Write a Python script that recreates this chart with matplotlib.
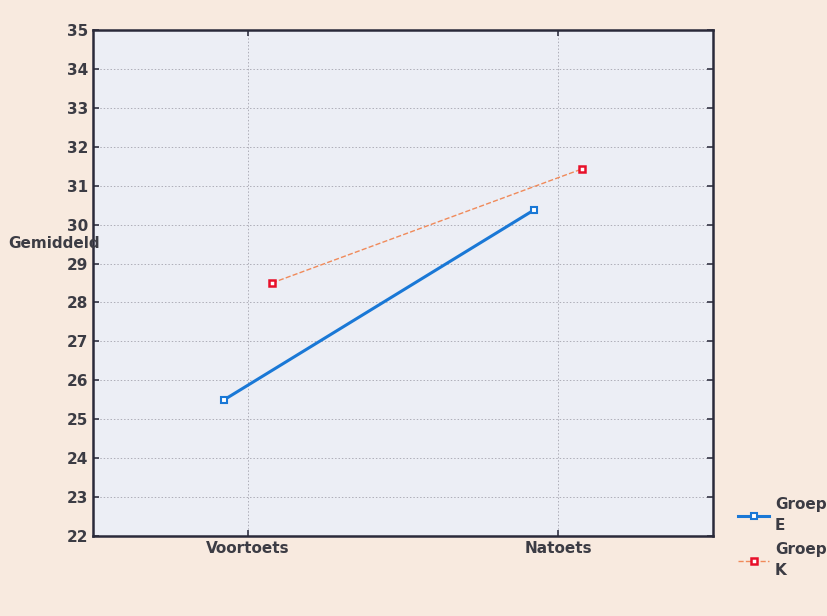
import matplotlib.pyplot as plt
import numpy as np

categories = ["Voortoets", "Natoets"]
groep_e = [25.5, 30.38]
groep_k = [28.5, 31.43]

fig = plt.figure(figsize=(8.28, 6.16), dpi=100)
fig.patch.set_facecolor("#f8eadf")
ax = fig.add_axes([0.1123, 0.1299, 0.749, 0.8214])
ax.set_facecolor("#eceef5")

x = np.arange(len(categories))
off = 0.077
ax.plot(x - off, groep_e, color="#1a78d6", lw=2.2, marker="s", ms=5,
        mfc="white", mec="#1a78d6", mew=1.5, label="Groep\nE")
ax.plot(x + off, groep_k, color="#f08a5a", lw=1, ls="--", marker="s", ms=5,
        mfc="white", mec="#e8102a", mew=1.8, label="Groep\nK")

ax.set_xlim(-0.5, 1.5)
ax.set_ylim(22, 35)
ax.set_xticks(x)
ax.set_xticklabels(categories)
ax.set_yticks(range(22, 36))
ax.grid(True, color="#aeaeb8", ls=(0, (1.5, 2)), lw=0.7)
ax.tick_params(direction="in", length=4, width=1.2, top=True, right=True,
               labelsize=11, labelcolor="#3c3c44", color="#333344")
for lab in ax.get_xticklabels() + ax.get_yticklabels():
    lab.set_fontweight("bold")
for s in ax.spines.values():
    s.set_linewidth(1.8)
    s.set_color("#2a2a3a")

fig.text(0.01, 0.605, "Gemiddeld", fontsize=11, fontweight="bold",
         color="#3c3c44", va="center", ha="left")

leg = fig.legend(loc="upper left", bbox_to_anchor=(0.875, 0.215), frameon=False,
                 prop={"weight": "bold", "size": 11}, labelcolor="#3c3c44",
                 handlelength=2.0, handletextpad=0.4, labelspacing=0.6)
for t in leg.get_texts():
    t.set_linespacing(1.5)

fig.savefig("out.png", dpi=100, facecolor=fig.get_facecolor())
